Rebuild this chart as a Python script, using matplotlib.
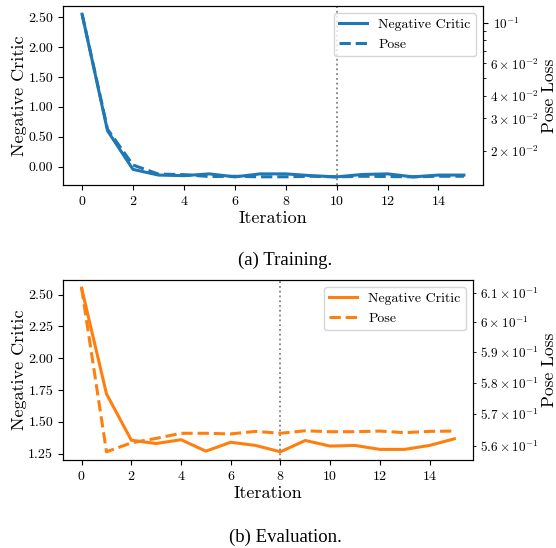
import numpy as np
import matplotlib
matplotlib.use("Agg")
import matplotlib.pyplot as plt

plt.rcParams['font.family'] = 'serif'
plt.rcParams['font.serif'] = ['cmr10']
plt.rcParams['mathtext.fontset'] = 'cm'
plt.rcParams['axes.formatter.use_mathtext'] = True
plt.rcParams['axes.unicode_minus'] = False

iters = np.arange(16)

# training
train_critic = [2.55, 0.60, -0.045, -0.14, -0.15, -0.12, -0.17, -0.12,
                -0.12, -0.15, -0.17, -0.13, -0.12, -0.17, -0.14, -0.14]
train_pose = [0.1114, 0.0262, 0.0167, 0.0149, 0.0148, 0.01445, 0.0145, 0.0144,
              0.0144, 0.0145, 0.01439, 0.0145, 0.01445, 0.0144, 0.0145, 0.0145]
train_best = 10

# evaluation
eval_critic = [2.55, 1.72, 1.356, 1.33, 1.36, 1.27, 1.34, 1.315,
               1.265, 1.354, 1.31, 1.315, 1.284, 1.284, 1.315, 1.367]
eval_pose = [0.6115, 0.5581, 0.5609, 0.5623, 0.5639, 0.5639, 0.5637, 0.5645,
             0.5639, 0.5647, 0.5644, 0.5644, 0.5646, 0.5641, 0.5645, 0.5646]
eval_best = 8

fig = plt.figure(figsize=(5.56, 5.48), dpi=100)
ax1 = fig.add_axes([0.1133, 0.6624, 0.7554, 0.3266])
ax2 = fig.add_axes([0.1133, 0.1606, 0.7374, 0.3285])


def panel(ax, critic, pose, best, color):
    l1, = ax.plot(iters, critic, color=color, lw=2.2, label='Negative Critic')
    ax.set_xlabel('Iteration', fontsize=13, labelpad=2)
    ax.set_ylabel('Negative Critic', fontsize=13, labelpad=1)
    ax.set_xticks(range(0, 16, 2))
    ax.tick_params(labelsize=10)
    ax.yaxis.set_major_formatter(matplotlib.ticker.FormatStrFormatter('%.2f'))
    ax.axvline(best, color='gray', ls=':', lw=1.3)
    axr = ax.twinx()
    l2, = axr.plot(iters, pose, color=color, lw=2.2, ls='--', label='Pose')
    axr.set_yscale('log')
    axr.set_ylabel('Pose Loss', fontsize=12.5, labelpad=2)
    axr.tick_params(which='both', labelsize=9.5)
    axr.legend(handles=[l1, l2], loc='upper right', fontsize=10)
    return axr


panel(ax1, train_critic, train_pose, train_best, '#1f77b4')
panel(ax2, eval_critic, eval_pose, eval_best, '#ff7f0e')

fig.text(0.513, 1 - 260 / 548, '(a) Training.', ha='center', va='center',
         family='Liberation Serif', fontsize=13.5)
fig.text(0.513, 1 - 537 / 548, '(b) Evaluation.', ha='center', va='center',
         family='Liberation Serif', fontsize=13.5)

fig.savefig('out.png', dpi=100)
